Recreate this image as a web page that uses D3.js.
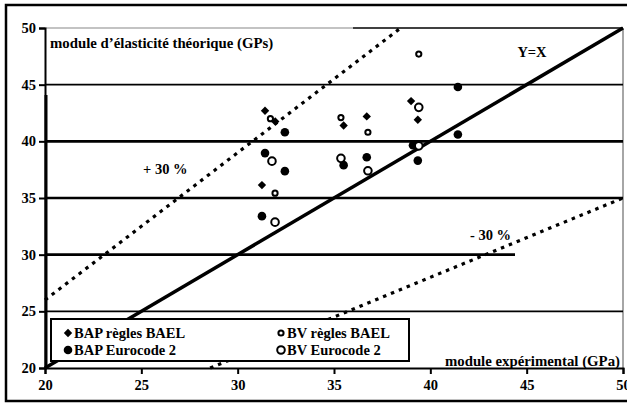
<!DOCTYPE html>
<html><head><meta charset="utf-8">
<script src="https://cdn.jsdelivr.net/npm/d3@7"></script>
<style>body{margin:0;background:#fff}svg{display:block}svg text{font-family:"Liberation Serif","Times New Roman",serif !important;font-weight:bold}</style>
</head><body><svg id="c" width="627" height="405"></svg>
<script>
const xTicks=[20,25,30,35,40,45,50];
const yTicks=[20,25,30,35,40,45,50];
const seriesNames=["BAP règles BAEL","BV règles BAEL","BAP Eurocode 2","BV Eurocode 2"];
const bapBael=[[31.42,42.7],[31.95,41.75],[31.26,36.14],[35.5,41.4],[36.7,42.2],[39.0,43.55],[39.35,41.9]];
const bvBael=[[31.7,42.0],[31.94,35.43],[35.36,42.1],[36.76,40.8],[39.4,47.7]];
const bapEc2=[[31.42,38.96],[32.45,40.8],[32.45,37.37],[31.26,33.4],[35.5,37.9],[36.7,38.6],[39.1,39.65],[39.35,38.3],[41.43,44.8],[41.43,40.6]];
const bvEc2=[[31.78,38.25],[31.94,32.87],[35.36,38.5],[36.76,37.4],[39.4,43.0],[39.4,39.6]];
const refLines=[{k:1,label:"Y=X"},{k:1.3,label:"+ 30 %"},{k:0.7,label:"- 30 %"}];

const svg=d3.select("#c");
const x=d3.scaleLinear().domain([20,50]).range([45,623]);
const y=d3.scaleLinear().domain([20,50]).range([368,28]);

// outer frame
svg.append("rect").attr("x",6).attr("y",5).attr("width",630).attr("height",396)
  .attr("fill","none").attr("stroke","#000").attr("stroke-width",2.5);

// plot border top & right
svg.append("line").attr("x1",x(20)).attr("x2",353).attr("y1",y(50)).attr("y2",y(50)).attr("stroke","#888").attr("stroke-width",1.2);
svg.append("line").attr("x1",353).attr("x2",x(50)).attr("y1",y(50)).attr("y2",y(50)).attr("stroke","#000").attr("stroke-width",1.5);
svg.append("line").attr("x1",x(50)).attr("x2",x(50)).attr("y1",y(50)).attr("y2",y(20)).attr("stroke","#888").attr("stroke-width",1.5);

// gridlines
const gw={45:1.6,40:2.6,35:2.6,30:2.6,25:1.8};
[45,40,35,30,25].forEach(v=>{
  svg.append("line").attr("x1",x(20)).attr("x2",v===30?515:x(50))
    .attr("y1",y(v)).attr("y2",y(v)).attr("stroke","#000").attr("stroke-width",gw[v]);
});

// axes
const gy=svg.append("g").attr("transform",`translate(${x(20)},0)`)
  .call(d3.axisLeft(y).tickValues(yTicks).tickSize(6).tickPadding(3).tickFormat(d3.format("d")));
const gx=svg.append("g").attr("transform",`translate(0,${y(20)})`)
  .call(d3.axisBottom(x).tickValues(xTicks).tickSize(6).tickPadding(6).tickFormat(d3.format("d")));
[gx,gy].forEach(g=>{
  g.attr("font-family",null).attr("font-size",null);
  g.select(".domain").attr("stroke","#000").attr("stroke-width",2);
  g.selectAll(".tick line").attr("stroke","#000").attr("stroke-width",2);
  g.selectAll("text").attr("font-size",14.5).attr("fill","#000");
});
svg.append("line").attr("x1",x(20)+1).attr("x2",x(20)+1).attr("y1",95).attr("y2",y(20)).attr("stroke","#000").attr("stroke-width",3);

// reference lines
refLines.forEach(r=>{
  const x0=Math.max(20,20/r.k), x1=Math.min(50,50/r.k);
  svg.append("line").attr("x1",x(x0)).attr("y1",y(x0*r.k)).attr("x2",x(x1)).attr("y2",y(x1*r.k))
    .attr("stroke","#000").attr("stroke-width",r.k===1?3.5:3.2)
    .attr("stroke-dasharray",r.k===1?null:"3.5,5");
});
svg.append("text").attr("x",532).attr("y",57).attr("text-anchor","middle").attr("font-size",14.5).text(refLines[0].label);
svg.append("text").attr("x",143).attr("y",174).attr("font-size",14.5).text(refLines[1].label);
svg.append("text").attr("x",470).attr("y",240).attr("font-size",14.5).text(refLines[2].label);

// axis titles
svg.append("text").attr("x",50).attr("y",48).attr("font-size",14.8).text("module d’élasticité théorique (GPs)");
svg.append("text").attr("x",620).attr("y",366).attr("text-anchor","end").attr("font-size",14.8).text("module expérimental (GPa)");

// markers
const sym={
  0:(g,cx,cy)=>g.append("path").attr("d","M0,-4.2L4.2,0L0,4.2L-4.2,0Z").attr("transform",`translate(${cx},${cy})`).attr("fill","#000"),
  1:(g,cx,cy)=>g.append("circle").attr("cx",cx).attr("cy",cy).attr("r",2.6).attr("fill","#fff").attr("stroke","#000").attr("stroke-width",2),
  2:(g,cx,cy)=>g.append("circle").attr("cx",cx).attr("cy",cy).attr("r",4.3).attr("fill","#000"),
  3:(g,cx,cy)=>g.append("circle").attr("cx",cx).attr("cy",cy).attr("r",3.8).attr("fill","#fff").attr("stroke","#000").attr("stroke-width",2)
};
const pts=svg.append("g");
[bapBael,bvBael,bapEc2,bvEc2].forEach((s,i)=>s.forEach(d=>sym[i](pts,x(d[0]),y(d[1]))));

// legend
svg.append("rect").attr("x",51).attr("y",319).attr("width",358).attr("height",42).attr("fill","#fff").attr("stroke","#000").attr("stroke-width",2);
const lg=[[68,333],[281,333],[68,350],[281,350]];
[0,1,2,3].forEach((i,j)=>{
  const [lx,ly]=lg[j];
  sym[i](svg,lx,ly);
  svg.append("text").attr("x",lx+6).attr("y",ly+5).attr("font-size",14.5).text(seriesNames[i]);
});
</script></body></html>
